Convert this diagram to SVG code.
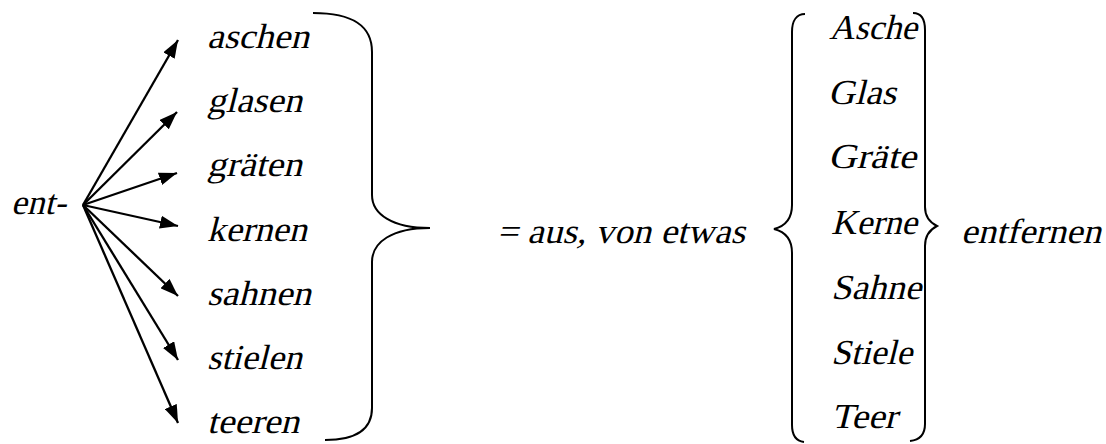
<svg xmlns="http://www.w3.org/2000/svg" width="1106" height="444" viewBox="0 0 1106 444">
<style>
text{font-family:"Liberation Serif","Times New Roman",serif;font-size:35px;fill:#000}
.ln{stroke:#000;stroke-width:2.3;fill:none;marker-end:url(#ah)}
.br{stroke:#000;stroke-width:2;fill:none}
</style>
<defs>
<marker id="ah" viewBox="0 0 18 13" refX="18" refY="6.5" markerWidth="18" markerHeight="13" markerUnits="userSpaceOnUse" orient="auto">
<path d="M0,0 L18,6.5 L0,13 Z" fill="#000"/>
</marker>
</defs>
<rect width="1106" height="444" fill="#fff"/>
<g id="prefix"><text transform="translate(11,214) skewX(-14)" textLength="55" lengthAdjust="spacingAndGlyphs">ent-</text></g>
<g id="verbs">
<text transform="translate(207,48) skewX(-14)" textLength="102" lengthAdjust="spacingAndGlyphs">aschen</text>
<text transform="translate(207,112) skewX(-14)" textLength="95" lengthAdjust="spacingAndGlyphs">glasen</text>
<text transform="translate(207,176) skewX(-14)" textLength="95" lengthAdjust="spacingAndGlyphs">gräten</text>
<text transform="translate(207,241) skewX(-14)" textLength="100" lengthAdjust="spacingAndGlyphs">kernen</text>
<text transform="translate(207,305) skewX(-14)" textLength="104" lengthAdjust="spacingAndGlyphs">sahnen</text>
<text transform="translate(207,369) skewX(-14)" textLength="95" lengthAdjust="spacingAndGlyphs">stielen</text>
<text transform="translate(207,433) skewX(-14)" textLength="92" lengthAdjust="spacingAndGlyphs">teeren</text>
</g>
<g id="left-brace"><path class="br" d="M313,13 C352,13 372,25 372,52 L372,195 C372,214 392,228 430,228 C392,228 372,242 372,262 L372,408 C372,428 358,440 325,440"/></g>
<g id="meaning"><text transform="translate(497,243) skewX(-14)" textLength="248" lengthAdjust="spacingAndGlyphs">= aus, von etwas</text></g>
<g id="right-brace-open"><path class="br" d="M805,14 C797,14 792,20 792,32 L792,205 C792,218 786,226 774,229 C786,232 792,240 792,253 L792,425 C792,436 796,441 804,442"/></g>
<g id="nouns">
<text transform="translate(829,39) skewX(-14)" textLength="88" lengthAdjust="spacingAndGlyphs">Asche</text>
<text transform="translate(828,104) skewX(-14)" textLength="68" lengthAdjust="spacingAndGlyphs">Glas</text>
<text transform="translate(828,168) skewX(-14)" textLength="88" lengthAdjust="spacingAndGlyphs">Gräte</text>
<text transform="translate(831,234) skewX(-14)" textLength="86" lengthAdjust="spacingAndGlyphs">Kerne</text>
<text transform="translate(831,299) skewX(-14)" textLength="90" lengthAdjust="spacingAndGlyphs">Sahne</text>
<text transform="translate(831,364) skewX(-14)" textLength="81" lengthAdjust="spacingAndGlyphs">Stiele</text>
<text transform="translate(831,428) skewX(-14)" textLength="66" lengthAdjust="spacingAndGlyphs">Teer</text>
</g>
<g id="right-brace-close"><path class="br" d="M913,13 C921,13 925,19 925,30 L925,207 C925,216 929,222 937,226 C929,230 925,236 925,246 L925,424 C925,435 920,440 910,441"/></g>
<g id="result"><text transform="translate(961,243) skewX(-14)" textLength="140" lengthAdjust="spacingAndGlyphs">entfernen</text></g>
<g id="connectors">
<line class="ln" x1="83" y1="205" x2="178" y2="40"/>
<line class="ln" x1="83" y1="205" x2="177" y2="112"/>
<line class="ln" x1="83" y1="205" x2="177" y2="173"/>
<line class="ln" x1="83" y1="205" x2="178" y2="226"/>
<line class="ln" x1="83" y1="205" x2="178" y2="296"/>
<line class="ln" x1="83" y1="205" x2="178" y2="360"/>
<line class="ln" x1="83" y1="205" x2="178" y2="423"/>
</g>
</svg>
